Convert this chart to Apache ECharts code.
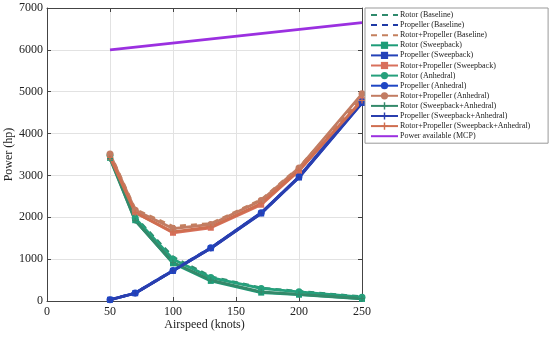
<!DOCTYPE html>
<html><head><meta charset="utf-8">
<script src="https://cdn.jsdelivr.net/npm/echarts@6/dist/echarts.min.js"></script>
<style>html,body{margin:0;padding:0;background:#fff}#c{width:550px;height:340px}</style>
</head><body><div id="c"></div>
<script>
const airspeed = [50, 70, 100, 130, 170, 200, 250];
const rotorBaseline = [3500, 2000, 1050, 580, 310, 230, 100];
const propBaseline = [30, 190, 730, 1270, 2100, 2960, 4750];
const rpBaseline = [3530, 2190, 1780, 1850, 2420, 3190, 4870];
const rotorSweep = [3420, 1930, 900, 480, 200, 150, 50];
const propSweep = [30, 185, 720, 1260, 2090, 2950, 4730];
const rpSweep = [3450, 2120, 1630, 1750, 2300, 3110, 4800];
const rotorAnh = [3480, 1980, 1000, 560, 300, 220, 90];
const propAnh = [30, 190, 730, 1270, 2110, 2970, 4760];
const rpAnh = [3510, 2170, 1730, 1830, 2400, 3180, 4950];
const rotorSA = [3400, 1920, 920, 500, 220, 160, 60];
const propSA = [25, 185, 720, 1260, 2100, 2960, 4740];
const rpSA = [3430, 2110, 1650, 1770, 2330, 3120, 4790];
const mcpAirspeed = [50, 250];
const mcpPower = [6000, 6650];
const xTicks = [0, 50, 100, 150, 200, 250];
const yTicks = [0, 1000, 2000, 3000, 4000, 5000, 6000, 7000];

const pair = (xs, ys) => xs.map((x, i) => [x, ys[i]]);
const plus = 'path://M4,0H6V4H10V6H6V10H4V6H0V4H4Z';
function mk(name, data, color, symbol, dashed, size) {
  return {
    name, type: 'line', data: pair(airspeed, data),
    symbol: symbol || 'none', symbolSize: size || 6, showSymbol: !!symbol,
    lineStyle: {color, width: 2.8, type: dashed ? [6, 5] : 'solid'},
    itemStyle: {color}, animation: false, z: 3
  };
}
const gR = ['#2f8a6c', '#1d9c78', '#25a07c', '#34896a'];
const bP = ['#1f3aa6', '#2442b8', '#1e46c4', '#2a3eae'];
const rP = ['#c4805e', '#d8705c', '#c27c62', '#cf6e50'];
const series = [
  mk('Rotor (Baseline)', rotorBaseline, gR[0], null, true),
  mk('Propeller (Baseline)', propBaseline, bP[0], null, true),
  mk('Rotor+Propeller (Baseline)', rpBaseline, rP[0], null, true),
  mk('Rotor (Sweepback)', rotorSweep, gR[1], 'rect', false, 6),
  mk('Propeller (Sweepback)', propSweep, bP[1], 'rect', false, 6),
  mk('Rotor+Propeller (Sweepback)', rpSweep, rP[1], 'rect', false, 6),
  mk('Rotor (Anhedral)', rotorAnh, gR[2], 'circle', false, 7),
  mk('Propeller (Anhedral)', propAnh, bP[2], 'circle', false, 7),
  mk('Rotor+Propeller (Anhedral)', rpAnh, rP[2], 'circle', false, 7),
  mk('Rotor (Sweepback+Anhedral)', rotorSA, gR[3], plus, false, 6),
  mk('Propeller (Sweepback+Anhedral)', propSA, bP[3], plus, false, 6),
  mk('Rotor+Propeller (Sweepback+Anhedral)', rpSA, rP[3], plus, false, 6),
  {name: 'Power available (MCP)', type: 'line', data: pair(mcpAirspeed, mcpPower),
   symbol: 'none', lineStyle: {color: '#9b30e0', width: 2.8}, itemStyle: {color: '#9b30e0'}, animation: false}
];
const noMarker = new Set(['Rotor (Baseline)', 'Propeller (Baseline)', 'Rotor+Propeller (Baseline)', 'Power available (MCP)']);
const font = '"Liberation Serif", "DejaVu Serif", serif';
const axisCommon = {
  axisLine: {show: true, onZero: false, lineStyle: {color: '#444', width: 1}},
  axisTick: {show: true, inside: true, length: 4, lineStyle: {color: '#444'}},
};
const chart = echarts.init(document.getElementById('c'), null, {renderer: 'canvas'});
chart.setOption({
  backgroundColor: '#fff',
  animation: false,
  grid: {left: 47, right: 188, top: 8, bottom: 39, containLabel: false, outerBoundsMode: 'none'},
  xAxis: [
    Object.assign({type: 'value', min: xTicks[0], max: xTicks[xTicks.length - 1], interval: 50,
      name: 'Airspeed (knots)', nameLocation: 'middle', nameGap: 18, nameMoveOverlap: false,
      nameTextStyle: {fontFamily: font, fontSize: 12, color: '#222'},
      axisLabel: {fontFamily: font, fontSize: 12, color: '#222', margin: 5, formatter: v => String(v)},
      splitLine: {show: true, lineStyle: {color: '#e2e2e2', width: 1}}}, axisCommon),
    Object.assign({type: 'value', position: 'top', min: 0, max: 250, interval: 50,
      axisLabel: {show: false}, splitLine: {show: false}}, axisCommon)
  ],
  yAxis: [
    Object.assign({type: 'value', min: yTicks[0], max: yTicks[yTicks.length - 1], interval: 1000,
      name: 'Power (hp)', nameLocation: 'middle', nameGap: 32, nameRotate: 90, nameMoveOverlap: false,
      nameTextStyle: {fontFamily: font, fontSize: 12, color: '#222'},
      axisLabel: {fontFamily: font, fontSize: 12, color: '#222', margin: 4, formatter: v => String(v)},
      splitLine: {show: true, lineStyle: {color: '#e2e2e2', width: 1}}}, axisCommon),
    Object.assign({type: 'value', position: 'right', min: 0, max: 7000, interval: 1000,
      axisLabel: {show: false}, splitLine: {show: false}}, axisCommon)
  ],
  legend: {
    orient: 'vertical', left: 365, top: 8,
    backgroundColor: '#fff', borderColor: '#999', borderWidth: 1,
    padding: [3, 18, 3, 5], itemGap: 2.1, itemWidth: 27, itemHeight: 9,
    textStyle: {fontFamily: font, fontSize: 8, color: '#222', padding: [0, 0, 0, -3]},
    data: series.map(s => noMarker.has(s.name) ? {name: s.name, itemStyle: {opacity: 0}} : s.name)
  },
  series
});
</script></body></html>
